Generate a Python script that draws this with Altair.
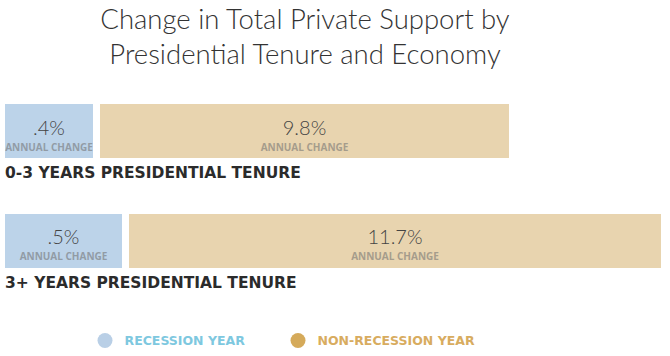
import altair as alt
import pandas as pd

# ---- data ----
rows = ["0-3 YEARS PRESIDENTIAL TENURE", "3+ YEARS PRESIDENTIAL TENURE"]
series = ["RECESSION YEAR", "NON-RECESSION YEAR"]
recession = [0.4, 0.5]
non_recession = [9.8, 11.7]
recession_text = [".4%", ".5%"]
non_recession_text = ["9.8%", "11.7%"]
sub_label = "ANNUAL CHANGE"
title_lines = ["Change in Total Private Support by", "Presidential Tenure and Economy"]

recs = []
for i, r in enumerate(rows):
    recs.append({"row": r, "series": series[0], "start": 0.0,
                 "end": recession[i], "label": recession_text[i], "sub": sub_label})
    recs.append({"row": r, "series": series[1], "start": recession[i],
                 "end": recession[i] + non_recession[i], "label": non_recession_text[i], "sub": sub_label})
df = pd.DataFrame(recs)

BLUE = "#bcd3e9"
TAN = "#e8d4af"
LEG_BLUE = "#b9cfe6"
LEG_TAN = "#d5aa5a"
TXT_BLUE = "#7ec8df"
TXT_TAN = "#d8ac5f"

xscale = alt.Scale(domain=[0, 0.4, 0.5, 10.2, 12.2], range=[5, 93, 122, 502, 654],
                   zero=False, nice=False)
yscale = alt.Scale(type="band", domain=rows, range=[14, 178], paddingInner=0.509, paddingOuter=0)

X = alt.X("start:Q", scale=xscale, axis=None)
X2 = alt.X2("end:Q")
Y = alt.Y("row:N", scale=yscale, axis=None)
# centre of each bar, computed through the x scale
XMID = alt.X("mid:Q", scale=None, axis=None)

base = alt.Chart(df)
is_rec = alt.datum.series == series[0]
is_non = alt.datum.series == series[1]
mid_expr = "(scale('x', datum.start) + scale('x', datum.end)) / 2"

color = alt.Color("series:N", scale=alt.Scale(domain=series, range=[BLUE, TAN]), legend=None)

rec_bar = base.transform_filter(is_rec).mark_bar().encode(x=X, x2=X2, y=Y, color=color)
non_bar = base.transform_filter(is_non).mark_bar(xOffset=7, x2Offset=7).encode(x=X, x2=X2, y=Y, color=color)

val_style = dict(font="Lato", fontWeight=300, fontSize=20, color="#444444", baseline="alphabetic", align="center")
sub_style = dict(font="Open Sans", fontWeight="bold", fontSize=10, color="#6f6f6f", opacity=0.55,
                 baseline="alphabetic", align="center")

txt = base.transform_calculate(mid=mid_expr)
rec_val = txt.transform_filter(is_rec).mark_text(yOffset=3.5, **val_style).encode(x=XMID, y=Y, text="label:N")
non_val = txt.transform_filter(is_non).mark_text(yOffset=3.5, xOffset=7, **val_style).encode(x=XMID, y=Y, text="label:N")
rec_sub = txt.transform_filter(is_rec).mark_text(yOffset=19.5, **sub_style).encode(x=XMID, y=Y, text="sub:N")
non_sub = txt.transform_filter(is_non).mark_text(yOffset=19.5, xOffset=7, **sub_style).encode(x=XMID, y=Y, text="sub:N")

row_lab = base.transform_filter(is_rec).mark_text(
    yOffset=47, align="left", baseline="alphabetic", font="DejaVu Sans", fontWeight="bold",
    fontSize=15.5, color="#2b2b2b"
).encode(x=alt.X("start:Q", scale=xscale, axis=None), y=Y, text="row:N")


def legend_layer(name, sym_color, txt_color, lx):
    return base.transform_filter("false").mark_point(filled=True, opacity=1).encode(
        fill=alt.Fill(
            "series:N",
            scale=alt.Scale(domain=[name], range=[sym_color]),
            legend=alt.Legend(
                title=None, orient="none", direction="horizontal",
                legendX=lx, legendY=243, padding=0,
                symbolType="circle", symbolSize=225, symbolStrokeWidth=0, symbolOpacity=1,
                labelFont="DejaVu Sans", labelFontWeight="bold", labelFontSize=12.5,
                labelColor=txt_color, labelOffset=12, labelLimit=400,
            ),
        )
    )


leg1 = legend_layer(series[0], LEG_BLUE, TXT_BLUE, 97.5)
leg2 = legend_layer(series[1], LEG_TAN, TXT_TAN, 290.5)

chart = alt.layer(rec_bar, non_bar, rec_val, non_val, rec_sub, non_sub, row_lab, leg1, leg2).resolve_scale(
    fill="independent"
).resolve_legend(fill="independent").properties(
    width=670, height=266,
    background="white",
    autosize=alt.AutoSizeParams(type="none"),
    padding={"left": 0, "right": 0, "top": 90, "bottom": 0},
    title=alt.TitleParams(
        text=title_lines, fontSize=27.5, font="Lato", fontWeight=300, color="#333333",
        anchor="middle", frame="group", dx=-30, dy=29, lineHeight=35, baseline="bottom", offset=21.5,
    ),
).configure_view(stroke=None)

chart.save("out.html", embed_options={"renderer": "svg", "actions": False})
